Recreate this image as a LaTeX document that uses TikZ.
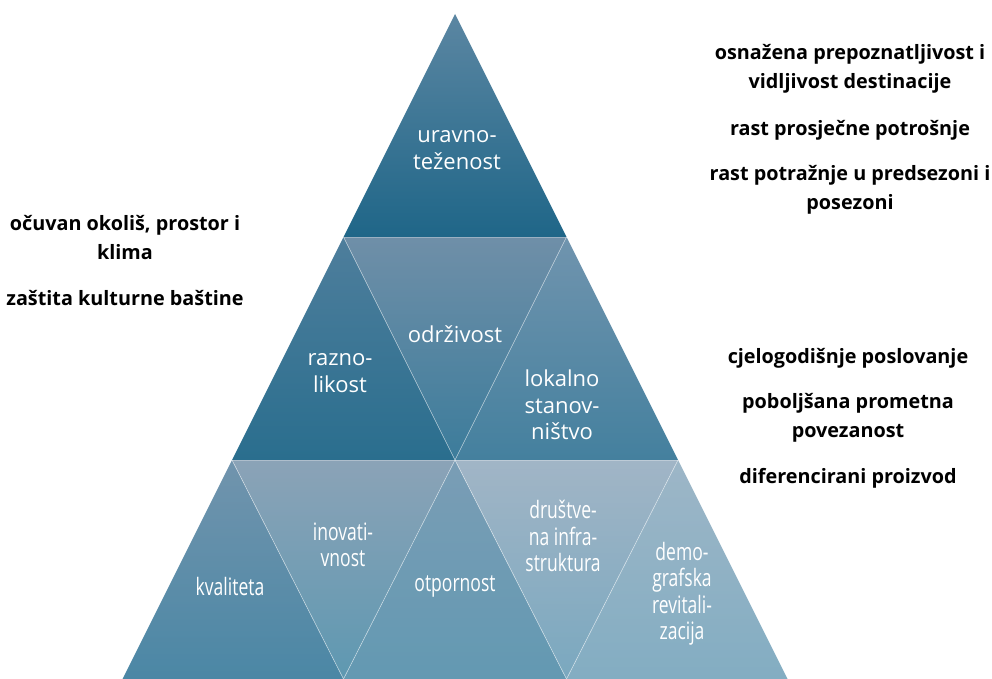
\documentclass[tikz,border=0pt]{standalone}
\usepackage{fontspec}
\newfontfamily\mainf{Open Sans}
\newfontfamily\narrowf[FakeStretch=0.73]{Open Sans}
\definecolor{ta}{HTML}{5B86A2}\definecolor{tb}{HTML}{1F6688}
\definecolor{ra}{HTML}{4E7E9C}\definecolor{rb}{HTML}{2A6E8E}
\definecolor{oa}{HTML}{6F8FA8}\definecolor{ob}{HTML}{3C7C9B}
\definecolor{la}{HTML}{7094AE}\definecolor{lb}{HTML}{44809E}
\definecolor{ka}{HTML}{7194AD}\definecolor{kb}{HTML}{4B87A5}
\definecolor{ia}{HTML}{8BA3B7}\definecolor{ib}{HTML}{5E98B1}
\definecolor{pa}{HTML}{7A9DB5}\definecolor{pb}{HTML}{6399B2}
\definecolor{da}{HTML}{A1B5C6}\definecolor{db}{HTML}{7AA8BF}
\definecolor{ga}{HTML}{9DB6C7}\definecolor{gb}{HTML}{83ADC2}
\begin{document}
\begin{tikzpicture}[x=1pt,y=-1pt,
  tri/.style={draw=white, draw opacity=0.55, line width=0.6pt},
  lab/.style={text=white, align=center, inner sep=0pt, font=\mainf\fontsize{22}{26.5}\selectfont},
  nlab/.style={text=white, align=center, inner sep=0pt, font=\narrowf\fontsize{24}{26.5}\selectfont},
  side/.style={text=black, align=center, inner sep=0pt, font=\mainf\bfseries\fontsize{19.8}{29}\selectfont}]
\useasboundingbox (0,0) rectangle (992,679);
\coordinate (P0) at (455,14);
\coordinate (L1) at (343.5,237); \coordinate (R1) at (566.5,237);
\coordinate (L2) at (232,460); \coordinate (M2) at (455,460); \coordinate (R2) at (678,460);
\coordinate (B0) at (122.5,679); \coordinate (B1) at (343.5,679);
\coordinate (B2) at (566.5,679); \coordinate (B3) at (787.5,679);
% row 1
\shade[top color=ta, bottom color=tb] (P0) -- (L1) -- (R1) -- cycle;
% row 2
\shade[top color=ra, bottom color=rb] (L1) -- (L2) -- (M2) -- cycle;
\shade[top color=oa, bottom color=ob] (L1) -- (R1) -- (M2) -- cycle;
\shade[top color=la, bottom color=lb] (R1) -- (M2) -- (R2) -- cycle;
% row 3
\shade[top color=ka, bottom color=kb] (L2) -- (B0) -- (B1) -- cycle;
\shade[top color=ia, bottom color=ib] (L2) -- (M2) -- (B1) -- cycle;
\shade[top color=pa, bottom color=pb] (M2) -- (B1) -- (B2) -- cycle;
\shade[top color=da, bottom color=db] (M2) -- (R2) -- (B2) -- cycle;
\shade[top color=ga, bottom color=gb] (R2) -- (B2) -- (B3) -- cycle;
% separators
\draw[tri] (L1) -- (M2) -- (R1);
\draw[tri] (L2) -- (B1) -- (M2) -- (B2) -- (R2);
\draw[tri, draw opacity=0.3] (L1) -- (R1);
\draw[tri, draw opacity=0.3] (L2) -- (R2);
% labels in triangles
\node[lab] (t1) at (457,150) {uravno-\\teženost};
\node[lab] (t2) at (340,373) {razno-\\likost};
\node[lab] (t3) at (455,334) {održivost};
\node[lab] (t4) at (562,405) {lokalno\\stanov-\\ništvo};
\node[nlab] (t5) at (230,586) {kvaliteta};
\node[nlab] (t6) at (343,545) {inovati-\\vnost};
\node[nlab] (t7) at (455,586) {otpornost};
\node[nlab] (t8) at (563,536) {društve-\\na infra-\\struktura};
\node[nlab] (t9) at (682,594) {demo-\\grafska\\revitali-\\zacija};
% side texts
\node[side] (s1) at (850,69) {osnažena prepoznatljivost i\\vidljivost destinacije};
\node[side] (s2) at (850,130) {rast prosječne potrošnje};
\node[side] (s3) at (850,190) {rast potražnje u predsezoni i\\posezoni};
\node[side] (s4) at (125,238) {očuvan okoliš, prostor i\\klima};
\node[side] (s5) at (125,298) {zaštita kulturne baštine};
\node[side] (s6) at (848,358) {cjelogodišnje poslovanje};
\node[side] (s7) at (848,418) {poboljšana prometna\\povezanost};
\node[side] (s8) at (848,478) {diferencirani proizvod};
\end{tikzpicture}
\end{document}
